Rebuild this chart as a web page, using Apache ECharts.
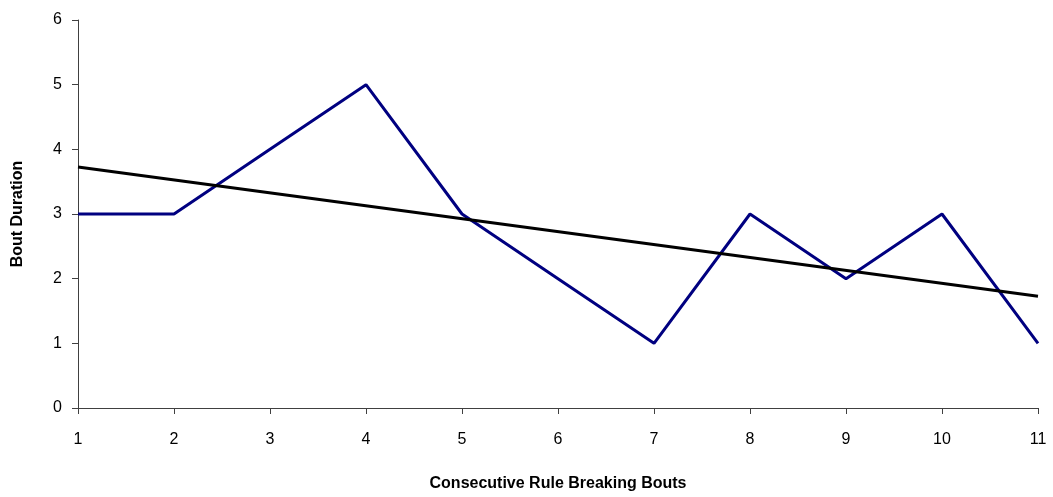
<!DOCTYPE html>
<html>
<head>
<meta charset="utf-8">
<script src="https://cdn.jsdelivr.net/npm/echarts@6/dist/echarts.min.js"></script>
<style>html,body{margin:0;padding:0;background:#fff}#chart{width:1053px;height:497px}</style>
</head>
<body>
<div id="chart"></div>
<script>
var bouts = [1, 2, 3, 4, 5, 6, 7, 8, 9, 10, 11];
var durations = [3, 3, 4, 5, 3, 2, 1, 3, 2, 3, 1];
var trendX = [1, 11];
var trendY = [3.727, 1.727];

var chart = echarts.init(document.getElementById('chart'));
var axisFont = { fontFamily: 'Liberation Sans, Arial', fontSize: 16, color: '#000' };
var nameFont = { fontFamily: 'Liberation Sans, Arial', fontSize: 16, fontWeight: 'bold', color: '#000' };
chart.setOption({
    animation: false,
    grid: { left: 78, right: 15, top: 20, bottom: 89 },
    xAxis: {
        type: 'value', min: 1, max: 11, interval: 1,
        name: 'Consecutive Rule Breaking Bouts', nameLocation: 'middle', nameGap: 68,
        nameTextStyle: nameFont,
        axisLine: { lineStyle: { color: '#404040' } },
        axisTick: { show: true, length: 6, lineStyle: { color: '#404040' } },
        axisLabel: Object.assign({ margin: 24 }, axisFont),
        splitLine: { show: false }
    },
    yAxis: {
        type: 'value', min: 0, max: 6, interval: 1,
        name: 'Bout Duration', nameLocation: 'middle', nameGap: 52,
        nameTextStyle: nameFont,
        axisLine: { show: true, lineStyle: { color: '#404040' } },
        axisTick: { show: true, length: 6, lineStyle: { color: '#404040' } },
        axisLabel: Object.assign({ margin: 16 }, axisFont),
        splitLine: { show: false }
    },
    series: [{
        type: 'line',
        data: bouts.map(function (x, i) { return [x, durations[i]]; }),
        symbol: 'none',
        lineStyle: { color: '#000080', width: 3 }
    }, {
        type: 'line',
        data: trendX.map(function (x, i) { return [x, trendY[i]]; }),
        symbol: 'none',
        lineStyle: { color: '#000', width: 3 }
    }]
});
</script>
</body>
</html>
